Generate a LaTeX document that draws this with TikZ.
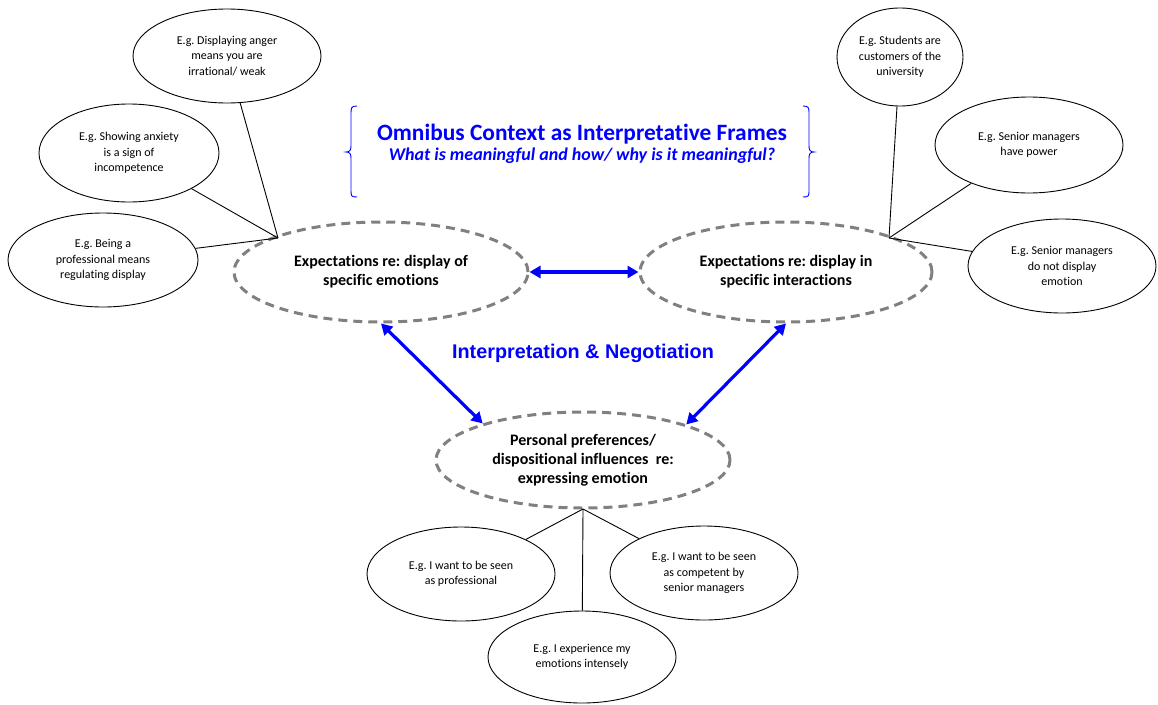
\documentclass[tikz,border=0pt]{standalone}
\usepackage{fontspec}
\setmainfont{Carlito}[Ligatures=NoCommon]
\newfontfamily\arialfont{Liberation Sans}
\usetikzlibrary{shapes.geometric,arrows.meta}
\frenchspacing
\definecolor{dashgray}{RGB}{128,128,128}
\tikzset{
  example/.style={ellipse, draw=black, line width=0.9pt, inner sep=0pt,
    minimum width=188pt, minimum height=94pt, align=center,
    font=\fontsize{12}{15.5}\selectfont},
  theme/.style={ellipse, draw=dashgray, line width=3pt, dash pattern=on 9pt off 6pt,
    inner sep=0pt, minimum width=294pt, minimum height=100pt, align=center,
    font=\bfseries\fontsize{16}{19}\selectfont},
  link/.style={draw=black, line width=0.9pt},
  twoway/.style={draw=blue, line width=3.2pt,
    {Triangle[length=11pt,width=12pt]}-{Triangle[length=11pt,width=12pt]}},
  bracket/.style={draw=blue, line width=0.9pt}
}
\begin{document}
\begin{tikzpicture}[x=1pt,y=-1pt]
\useasboundingbox (0,0) rectangle (1158,704);

% left group of examples
\node[example] (anger) at (227,56) {E.g. Displaying anger\\means you are\\irrational/ weak};
\node[example, minimum width=180pt, minimum height=98pt] (anxiety) at (129,153) {E.g. Showing anxiety\\is a sign of\\incompetence};
\node[example, minimum width=190pt] (prof) at (103,260) {E.g. Being a\\professional means\\regulating display};

% right group of examples
\node[example, minimum width=126pt, minimum height=98pt] (students) at (900,57) {E.g. Students are\\customers of the\\university};
\node[example, minimum height=96pt] (power) at (1029,145) {E.g. Senior managers\\have power};
\node[example] (nodisplay) at (1062,266) {E.g. Senior managers\\do not display\\emotion};

% central themes
\node[theme] (emotions) at (381,272) {Expectations re: display of\\specific emotions};
\node[theme, minimum width=292pt] (interactions) at (786,272) {Expectations re: display in\\specific interactions};
\node[theme, minimum height=96pt] (personal) at (583,460) {Personal preferences/\\dispositional influences~~re:\\expressing emotion};

% bottom group of examples
\node[example] (seenprof) at (461,574) {E.g. I want to be seen\\as professional};
\node[example] (competent) at (704,573) {E.g. I want to be seen\\as competent by\\senior managers};
\node[example, minimum height=92pt] (intense) at (582,657) {E.g. I experience my\\emotions intensely};

% meeting points of the example links
\coordinate (hubL) at (278,238);
\coordinate (hubR) at (889,238);
\coordinate (hubB) at (583,509);

\draw[link] (anger) -- (hubL);
\draw[link] (anxiety) -- (hubL);
\draw[link] (prof) -- (hubL);
\draw[link] (students) -- (hubR);
\draw[link] (power) -- (hubR);
\draw[link] (nodisplay) -- (hubR);
\draw[link] (seenprof) -- (hubB);
\draw[link] (intense) -- (hubB);
\draw[link] (competent) -- (hubB);

% two-way arrows between themes
\draw[twoway] (emotions.east) -- (interactions.west);
\draw[twoway] (emotions.south) -- (personal.160);
\draw[twoway] (interactions.south) -- (personal.19);

% heading
\node[text=blue, font=\bfseries\fontsize{23.4}{28}\selectfont] (title) at (582,134) {Omnibus Context as Interpretative Frames};
\node[text=blue, font=\bfseries\itshape\fontsize{18}{21}\selectfont] (subtitle) at (582,156) {What is meaningful and how/ why is it meaningful?};
\node[text=blue, font=\arialfont\bfseries\fontsize{19.8}{23}\selectfont] (negotiation) at (583,353) {Interpretation \& Negotiation};

% curly brackets around the heading
\draw[bracket] (357,106) .. controls (351,106) and (351,108) .. (351,114) -- (351,146)
  .. controls (351,150) and (350,152) .. (346,152)
  .. controls (350,152) and (351,154) .. (351,158) -- (351,190)
  .. controls (351,196) and (351,197) .. (357,197);
\draw[bracket] (803,106) .. controls (809,106) and (809,108) .. (809,114) -- (809,146)
  .. controls (809,150) and (810,152) .. (814,152)
  .. controls (810,152) and (809,154) .. (809,158) -- (809,190)
  .. controls (809,196) and (809,197) .. (803,197);
\end{tikzpicture}
\end{document}
